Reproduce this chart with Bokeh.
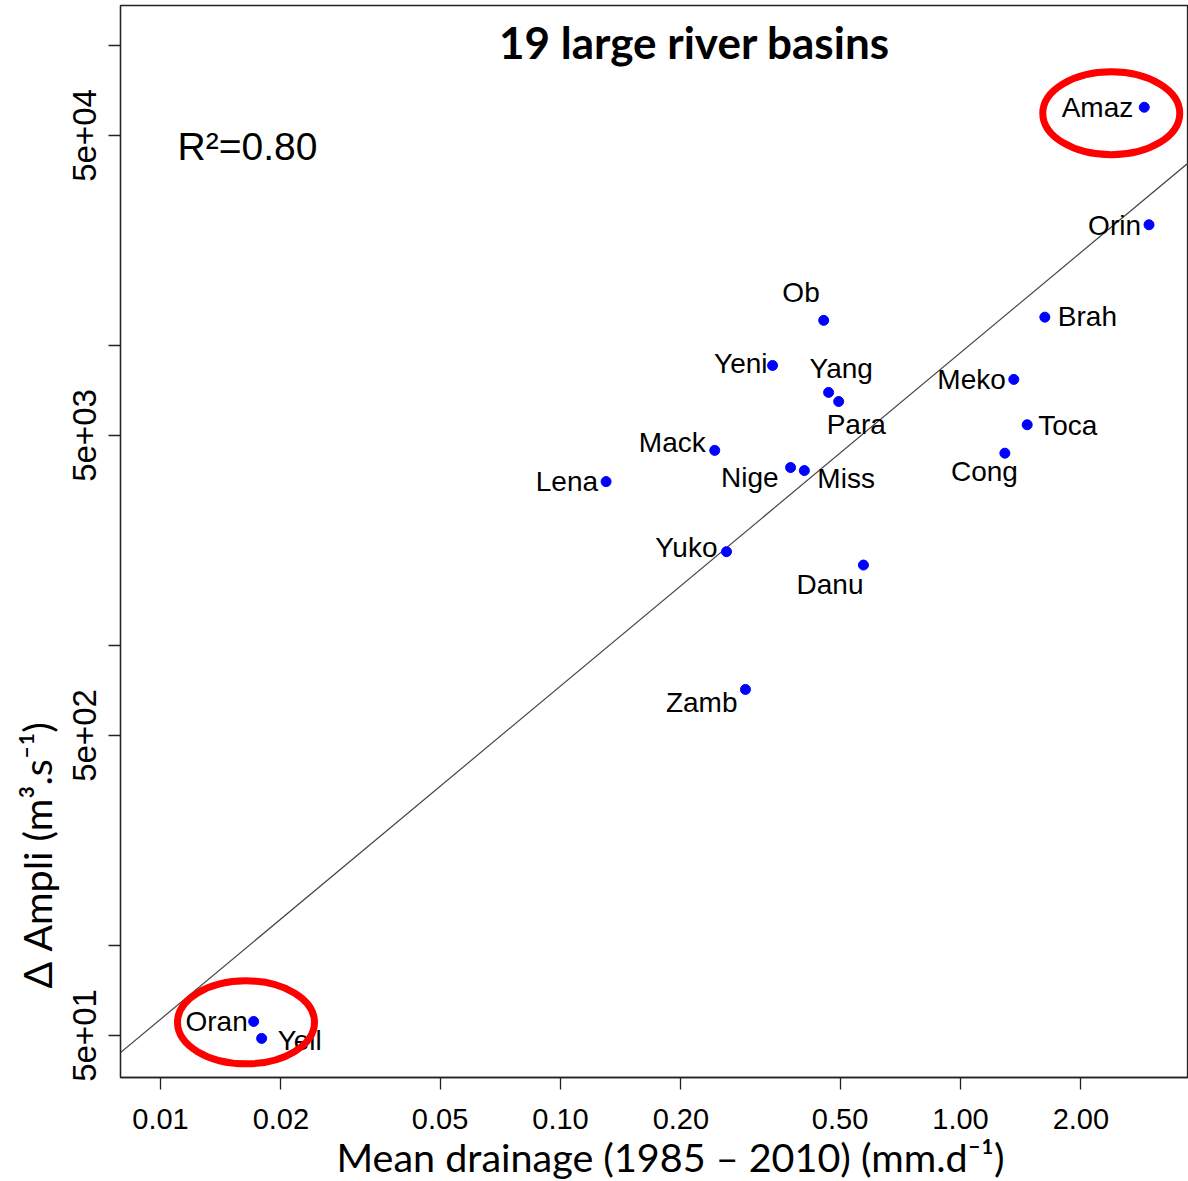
import math
import numpy as np
from bokeh.plotting import figure
from bokeh.models import ColumnDataSource, FixedTicker, Range1d, Label, Title
from bokeh.embed import file_html
from bokeh.resources import INLINE
from bokeh.core.properties import value

# ---------------- data ----------------
basins = ["Amaz", "Orin", "Brah", "Ob", "Yeni", "Meko", "Yang", "Para", "Toca",
          "Mack", "Cong", "Nige", "Miss", "Lena", "Yuko", "Danu", "Zamb", "Oran", "Yell"]
mean_drainage = [2.88, 2.96, 1.625, 0.455, 0.339, 1.359, 0.468, 0.496, 1.468,
                 0.243, 1.291, 0.376, 0.407, 0.130, 0.260, 0.572, 0.290, 0.0171, 0.0179]
delta_ampli = [62100, 25200, 12400, 12100, 8560, 7690, 6960, 6490, 5430,
               4460, 4365, 3910, 3820, 3510, 2050, 1850, 712, 55.7, 48.9]

# regression line: log10(y) = a + b*log10(x)
fit_intercept_log10 = 3.975
fit_slope = 1.111
r_squared_text = "R\u00b2=0.80"

x_ticks = [0.01, 0.02, 0.05, 0.1, 0.2, 0.5, 1.0, 2.0]
x_tick_labels = ["0.01", "0.02", "0.05", "0.10", "0.20", "0.50", "1.00", "2.00"]
y_ticks = [50, 100, 500, 1000, 5000, 10000, 50000, 100000]
y_tick_labels = ["5e+01", "", "5e+02", "", "5e+03", "", "5e+04", ""]

highlighted = [["Amaz"], ["Oran", "Yell"]]

title_text = "19 large river basins"
x_title = "Mean drainage (1985 \u2013 2010) (mm.d\u207b\u00b9)"
y_title = "\u0394 Ampli (m\u00b3.s\u207b\u00b9)"

# ---------------- label placement (style) ----------------
label_place = {  # align, dx(px), dy(px, down positive)
    "Amaz": ("right", -11, 0), "Orin": ("right", -8, 1), "Brah": ("left", 13, -1),
    "Ob": ("right", -4, -28), "Yeni": ("right", -5, -2), "Meko": ("right", -8, 0),
    "Yang": ("left", -19, -24), "Para": ("left", -12, 23), "Toca": ("left", 11, 1),
    "Mack": ("right", -9, -8), "Cong": ("right", 13, 18), "Nige": ("right", -12, 10),
    "Miss": ("left", 13, 8), "Lena": ("right", -8, 0), "Yuko": ("right", -9, -4),
    "Danu": ("right", 0, 19), "Zamb": ("right", -8, 13), "Oran": ("right", -6, 0),
    "Yell": ("left", 16, 2),
}

SANS = "Liberation Sans"
CAL = "Lato"

p = figure(width=1188, height=1181, x_axis_type="log", y_axis_type="log",
           x_range=Range1d(10 ** -2.1, 10 ** 0.57),
           y_range=Range1d(10 ** 1.559, 10 ** 5.1323),
           output_backend="svg", toolbar_location=None,
           min_border_left=120, min_border_right=0, min_border_top=5, min_border_bottom=104)
p.xgrid.visible = False
p.ygrid.visible = False
p.outline_line_color = "#222222"
p.outline_line_width = 1.3
p.background_fill_color = "white"
p.border_fill_color = "white"

for ax in (p.xaxis[0], p.yaxis[0]):
    ax.minor_tick_line_color = None
    ax.major_tick_in = 0
    ax.major_tick_out = 12
    ax.major_tick_line_color = "#222222"
    ax.major_tick_line_width = 1.3
    ax.axis_line_color = "#222222"
    ax.axis_line_width = 1.3
    ax.major_label_text_font = SANS
    ax.major_label_text_color = "black"

p.xaxis.ticker = FixedTicker(ticks=x_ticks)
p.xaxis.major_label_overrides = {t: l for t, l in zip(x_ticks, x_tick_labels)}
p.xaxis.major_label_text_font_size = "29px"
p.xaxis.major_label_standoff = 19

p.yaxis.ticker = FixedTicker(ticks=y_ticks)
p.yaxis.major_label_overrides = {t: l for t, l in zip(y_ticks, y_tick_labels)}
p.yaxis.major_label_text_font_size = "33px"
p.yaxis.major_label_orientation = "vertical"
p.yaxis.major_label_standoff = 12

# regression line
xr = np.array([10 ** -2.3, 10 ** 0.8])
yr = 10 ** (fit_intercept_log10 + fit_slope * np.log10(xr))
p.line(xr, yr, line_color="#444444", line_width=1.2)

# points
src = ColumnDataSource(dict(
    x=mean_drainage, y=delta_ampli, name=basins,
    align=[label_place[b][0] for b in basins],
    dx=[label_place[b][1] for b in basins],
    dy=[label_place[b][2] for b in basins],
))
p.scatter("x", "y", source=src, size=10, color="#0000ff")
p.text("x", "y", text="name", source=src, x_offset="dx", y_offset="dy",
       text_align="align", text_baseline="middle",
       text_font=value(SANS), text_font_size="28px", text_color="black")

# red ellipses around highlighted basins (centre shifted to include the labels)
ell_x, ell_y = [], []
ell_shift = {("Amaz",): (0.827, 0.955), ("Oran", "Yell"): (0.935, 1.06)}
for grp in highlighted:
    idx = [basins.index(g) for g in grp]
    gx = 10 ** np.mean([math.log10(mean_drainage[i]) for i in idx])
    gy = 10 ** np.mean([math.log10(delta_ampli[i]) for i in idx])
    fx, fy = ell_shift[tuple(grp)]
    ell_x.append(gx * fx)
    ell_y.append(gy * fy)
p.ellipse(ell_x, ell_y, width=137, height=83, width_units="screen", height_units="screen",
          fill_color=None, line_color="#ff0000", line_width=7)

# texts inside the frame
p.add_layout(Label(x=0.2163, y=102100, text=title_text, text_align="center",
                   text_baseline="middle", text_font=CAL, text_font_style="bold",
                   text_font_size="44px", text_color="black"))
p.add_layout(Label(x=0.01103, y=45950, text=r_squared_text, text_align="left",
                   text_baseline="middle", text_font=SANS, text_font_size="39px",
                   text_color="black"))

# axis titles as side-panel titles (offset along the axis)
p.add_layout(Title(text=x_title, align="left", offset=216, standoff=-1,
                   vertical_align="bottom", text_font=CAL, text_font_style="normal",
                   text_font_size="39.5px", text_color="black"), "below")
p.add_layout(Title(text=y_title, align="left", offset=89, standoff=21,
                   vertical_align="bottom", text_font=CAL, text_font_style="normal",
                   text_font_size="39.5px", text_color="black"), "left")

open("out.html", "w").write(file_html(p, INLINE))
